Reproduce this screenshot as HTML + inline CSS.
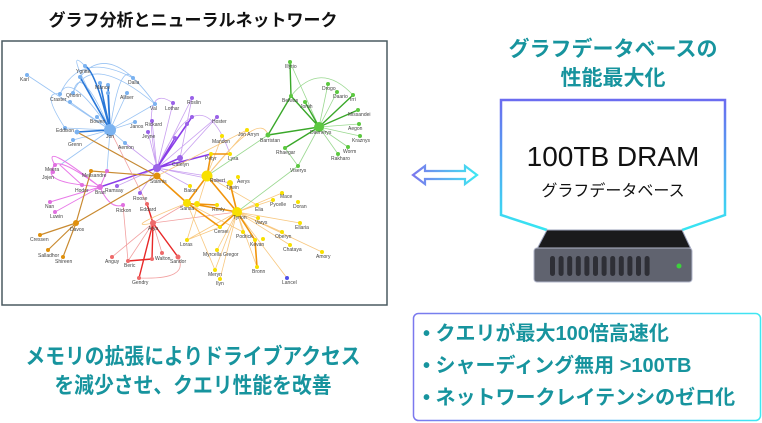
<!DOCTYPE html>
<html><head><meta charset="utf-8"><style>
body{margin:0;width:762px;height:423px;background:#fff;overflow:hidden;position:relative;font-family:"Liberation Sans","Noto Sans CJK JP",sans-serif}
.t{position:absolute;white-space:nowrap}
</style></head><body>
<div class="t" style="left:0;width:386px;top:6px;text-align:center;font-size:17px;font-weight:bold;color:#111">グラフ分析とニューラルネットワーク</div>
<div class="t" style="left:500px;width:226px;top:35px;text-align:center;font-size:21px;font-weight:bold;color:#17949e;line-height:29px">グラフデータベースの<br>性能最大化</div>

<svg style="position:absolute;left:0;top:0" width="762" height="423">
<defs>
<linearGradient id="g1" x1="0" y1="0" x2="0" y2="1"><stop offset="0" stop-color="#6b6cf0"/><stop offset="1" stop-color="#36e6f2"/></linearGradient>
<linearGradient id="g3" x1="0" y1="0" x2="1" y2="0"><stop offset="0" stop-color="#7b78ee"/><stop offset="1" stop-color="#3ee8f2"/></linearGradient>
</defs>
<rect x="2" y="41" width="385" height="264" fill="#fff" stroke="#4a5a60" stroke-width="1.5"/>
<g fill="none" stroke-linecap="round">
<g stroke="#7fb4f0" stroke-width="0.8" opacity="0.8">
<path d="M110 130 L27 75 M110 130 Q70 70 60 94 M110 130 Q80 60 73 93 M110 130 L70 102 M110 130 Q60 40 85 66 M110 130 Q120 60 133 78 M110 130 L127 93 M110 130 L155 104 M110 130 L97 117 M110 130 L135 122 M110 130 L65 128 M110 130 L73 140 M110 130 L125 143 M60 94 Q80 50 133 78 M73 93 Q90 50 155 104 M80 77 Q110 40 155 104 M65 128 Q40 90 60 94 M110 130 L107 171 M110 130 L60 165 M77 132 L157 176"/>
</g>
<g stroke="#2a78d8" stroke-width="1.6">
<path d="M110 130 L80 77 M110 130 L100 83 M110 130 L108 85 M110 130 L108 93 M110 130 L77 132 M110 130 Q95 70 85 66"/>
</g>
<g stroke="#c9a0f0" stroke-width="0.8">
<path d="M157 168 L173 103 M157 168 L192 98 M157 168 L217 117 M157 168 L152 121 M157 168 L148 132 M157 168 Q200 70 230 154 M157 168 L117 186 M157 168 L140 193 M157 168 L125 143 M157 168 L207 176 M180 158 L217 117 M180 158 L192 98 M157 168 Q140 80 173 103 M157 168 L230 183 M157 168 L190 186"/>
</g>
<g stroke="#8a3ee8" stroke-width="1.5">
<path d="M157 168 L192 117 M157 168 L187 124 M157 168 L175 138 M157 168 L180 158 M157 168 L100 187 M157 168 L211 154"/>
</g>
<g stroke="#e87ae8" stroke-width="1">
<path d="M100 187 Q40 140 55 165 M100 187 Q50 150 53 172 M100 187 L82 185 M100 187 L107 171 M100 187 Q110 210 123 205 M100 187 L50 202 M100 187 L55 212 M55 165 Q40 180 82 185 M82 185 L60 165"/>
</g>
<g stroke="#c98a30" stroke-width="1.2">
<path d="M157 176 L76 223 M76 223 L48 250 M76 223 L40 235 M76 223 L63 257 M157 176 L91 171 M91 171 L76 223 M157 176 L77 132"/>
</g>
<g stroke="#f2a0a0" stroke-width="0.8">
<path d="M153 223 L112 257 M153 223 L147 204 M153 223 L162 253 M153 223 L187 203 M147 204 L110 130 M153 223 L128 261 M139 278 Q190 280 178 257 M128 261 L123 205 M153 223 L237 212"/>
</g>
<g stroke="#e82828" stroke-width="1.4">
<path d="M153 223 L178 257 M153 223 L139 278 M153 223 L152 259 M128 261 L152 259 M147 204 L153 223"/>
</g>
<g stroke="#f8c880" stroke-width="0.8">
<path d="M237 212 L258 218 M237 212 L273 200 M237 212 L282 193 M237 212 L257 205 M237 212 L282 232 M237 212 L300 223 M237 212 L290 245 M237 212 L322 252 M237 212 L243 232 M237 212 L257 267 M237 212 L215 270 M237 212 L220 279 M237 212 L187 240 M237 212 L217 250 M207 176 L247 130 M207 176 L222 136 M187 203 L220 227 M187 203 L215 270 M207 176 L187 240 M187 203 L243 232 M207 176 Q260 110 268 135 M237 212 L287 278 M187 203 Q120 230 153 223 M207 176 L257 205 M220 227 L187 240 M157 176 L247 130"/>
</g>
<g stroke="#f0940c" stroke-width="1.6">
<path d="M187 203 L237 212 M207 176 L237 212 M207 176 L187 203 M211 154 L230 154 M230 183 L237 212 M197 204 L217 205 M220 227 L237 212 M187 203 L220 227 M237 212 L255 240 M255 240 L257 267 M157 176 L187 203 M207 176 L211 154"/>
</g>
<g stroke="#9ad890" stroke-width="0.8">
<path d="M319 127 L290 62 M319 127 L328 84 M319 127 L337 92 M319 127 L359 124 M319 127 L360 136 M319 127 L348 147 M319 127 L338 154 M319 127 L298 166 M207 176 L268 135 M237 212 L298 166 M291 96 Q320 60 353 95 M285 148 L298 166"/>
</g>
<g stroke="#3aa82a" stroke-width="1.4">
<path d="M319 127 L291 96 M319 127 L305 102 M319 127 L353 95 M319 127 L358 110 M319 127 L268 135 M268 135 L291 96 M319 127 L285 148 M290 62 L291 96"/>
</g>
</g>
<g>
<g fill="#7ab2f0"><circle cx="110" cy="130" r="6"/><circle cx="27" cy="75" r="2"/><circle cx="60" cy="94" r="2"/><circle cx="73" cy="93" r="2"/><circle cx="70" cy="102" r="2"/><circle cx="80" cy="77" r="2"/><circle cx="85" cy="66" r="2"/><circle cx="100" cy="83" r="2"/><circle cx="108" cy="85" r="2"/><circle cx="108" cy="93" r="2"/><circle cx="133" cy="78" r="2"/><circle cx="127" cy="93" r="2"/><circle cx="155" cy="104" r="2"/><circle cx="97" cy="117" r="2"/><circle cx="135" cy="122" r="2"/><circle cx="65" cy="128" r="2"/><circle cx="77" cy="132" r="2.5"/><circle cx="73" cy="140" r="2"/><circle cx="125" cy="143" r="2"/></g>
<g fill="#9a62e8"><circle cx="157" cy="168" r="4"/><circle cx="180" cy="158" r="3"/><circle cx="173" cy="103" r="2"/><circle cx="192" cy="98" r="2"/><circle cx="192" cy="117" r="2"/><circle cx="187" cy="124" r="2"/><circle cx="217" cy="117" r="2"/><circle cx="152" cy="121" r="2"/><circle cx="148" cy="132" r="2"/><circle cx="175" cy="138" r="2"/><circle cx="117" cy="186" r="2"/><circle cx="140" cy="193" r="2"/></g>
<g fill="#e070e0"><circle cx="55" cy="165" r="2"/><circle cx="53" cy="172" r="2"/><circle cx="82" cy="185" r="2"/><circle cx="100" cy="187" r="3"/><circle cx="107" cy="171" r="2"/><circle cx="123" cy="205" r="2"/><circle cx="50" cy="202" r="2"/><circle cx="55" cy="212" r="2"/></g>
<g fill="#e0900c"><circle cx="157" cy="176" r="3.5"/><circle cx="76" cy="223" r="3"/><circle cx="40" cy="235" r="2"/><circle cx="48" cy="250" r="2"/><circle cx="63" cy="257" r="2"/><circle cx="91" cy="171" r="2"/></g>
<g fill="#ee6a6a"><circle cx="153" cy="223" r="3"/><circle cx="147" cy="204" r="2"/><circle cx="139" cy="278" r="2"/><circle cx="128" cy="261" r="2"/><circle cx="152" cy="259" r="2"/><circle cx="112" cy="257" r="2"/><circle cx="178" cy="257" r="2.5"/><circle cx="162" cy="253" r="2"/></g>
<g fill="#f8e000"><circle cx="207" cy="176" r="5.5"/><circle cx="187" cy="203" r="4"/><circle cx="197" cy="204" r="3"/><circle cx="237" cy="212" r="5"/><circle cx="211" cy="154" r="2"/><circle cx="230" cy="154" r="2"/><circle cx="247" cy="130" r="2"/><circle cx="217" cy="205" r="2"/><circle cx="220" cy="227" r="2"/><circle cx="230" cy="183" r="3"/><circle cx="238" cy="177" r="2"/><circle cx="190" cy="186" r="2"/><circle cx="258" cy="218" r="2"/><circle cx="273" cy="200" r="2"/><circle cx="282" cy="193" r="2"/><circle cx="298" cy="202" r="2"/><circle cx="257" cy="205" r="2"/><circle cx="282" cy="232" r="2"/><circle cx="300" cy="223" r="2"/><circle cx="290" cy="245" r="2"/><circle cx="322" cy="252" r="2"/><circle cx="243" cy="232" r="2"/><circle cx="255" cy="240" r="2"/><circle cx="263" cy="239" r="2"/><circle cx="257" cy="267" r="2"/><circle cx="215" cy="270" r="2"/><circle cx="220" cy="279" r="2"/><circle cx="187" cy="240" r="2"/><circle cx="217" cy="250" r="2"/><circle cx="222" cy="136" r="2"/></g>
<circle cx="287" cy="278" r="2" fill="#5050e8"/>
<g fill="#5cc840"><circle cx="319" cy="127" r="5"/><circle cx="290" cy="62" r="2"/><circle cx="291" cy="96" r="2"/><circle cx="305" cy="102" r="2"/><circle cx="328" cy="84" r="2"/><circle cx="337" cy="92" r="2"/><circle cx="353" cy="95" r="2"/><circle cx="358" cy="110" r="2"/><circle cx="359" cy="124" r="2"/><circle cx="360" cy="136" r="2"/><circle cx="348" cy="147" r="2"/><circle cx="338" cy="154" r="2"/><circle cx="268" cy="135" r="2.5"/><circle cx="285" cy="148" r="2"/><circle cx="298" cy="166" r="2"/></g>
</g>
<g font-family="Liberation Sans" font-size="5" fill="#444">
<text x="20" y="81">Karl</text><text x="50" y="101">Craster</text><text x="66" y="97">Qhorin</text><text x="76" y="73">Ygritte</text><text x="95" y="89">Mance</text><text x="128" y="84">Dalla</text><text x="120" y="99">Alliser</text><text x="150" y="110">Val</text><text x="90" y="123">Bowen</text><text x="130" y="128">Janos</text><text x="56" y="132">Eddison</text><text x="68" y="146">Grenn</text><text x="106" y="138">Jon</text><text x="118" y="149">Aemon</text>
<text x="165" y="110">Lothar</text><text x="187" y="104">Roslin</text><text x="212" y="123">Hoster</text><text x="145" y="126">Rickard</text><text x="142" y="138">Jeyne</text><text x="172" y="166">Catelyn</text><text x="105" y="192">Ramsay</text><text x="133" y="200">Roose</text>
<text x="45" y="171">Meera</text><text x="42" y="179">Jojen</text><text x="75" y="192">Hodor</text><text x="95" y="194">Bran</text><text x="82" y="177">Melisandre</text><text x="116" y="212">Rickon</text><text x="45" y="208">Nan</text><text x="50" y="218">Luwin</text>
<text x="70" y="231">Davos</text><text x="30" y="241">Cressen</text><text x="38" y="257">Salladhor</text><text x="55" y="263">Shireen</text><text x="150" y="183">Stannis</text>
<text x="140" y="211">Eddard</text><text x="148" y="230">Arya</text><text x="105" y="263">Anguy</text><text x="124" y="267">Beric</text><text x="132" y="284">Gendry</text><text x="170" y="263">Sandor</text><text x="155" y="260">Walton</text>
<text x="210" y="182">Robert</text><text x="180" y="210">Sansa</text><text x="233" y="219">Tyrion</text><text x="205" y="160">Petyr</text><text x="228" y="160">Lysa</text><text x="238" y="136">Jon Arryn</text><text x="212" y="143">Mandon</text><text x="214" y="233">Cersei</text><text x="226" y="189">Tywin</text><text x="237" y="183">Aerys</text><text x="184" y="192">Balon</text><text x="255" y="224">Varys</text><text x="270" y="206">Pycelle</text><text x="280" y="198">Mace</text><text x="293" y="208">Doran</text><text x="255" y="211">Elia</text><text x="275" y="238">Oberyn</text><text x="295" y="229">Ellaria</text><text x="283" y="251">Chataya</text><text x="316" y="258">Amory</text><text x="236" y="238">Podrick</text><text x="250" y="246">Kevan</text><text x="252" y="273">Bronn</text><text x="282" y="284">Lancel</text><text x="208" y="276">Meryn</text><text x="216" y="285">Ilyn</text><text x="180" y="246">Loras</text><text x="203" y="256">Myrcella Gregor</text><text x="212" y="211">Renly</text>
<text x="285" y="68">Illyrio</text><text x="282" y="102">Belwas</text><text x="300" y="108">Jorah</text><text x="322" y="90">Drogo</text><text x="333" y="98">Daario</text><text x="350" y="101">Irri</text><text x="348" y="116">Missandei</text><text x="348" y="130">Aegon</text><text x="352" y="142">Kraznys</text><text x="343" y="153">Worm</text><text x="331" y="160">Rakharo</text><text x="310" y="134">Daenerys</text><text x="260" y="142">Barristan</text><text x="276" y="154">Rhaegar</text><text x="290" y="172">Viserys</text>
</g>

<path d="M413 175 L425 166 L425 171 L465 171 L465 166 L477 175 L465 184 L465 179 L425 179 L425 184 Z" fill="#fff" stroke="url(#g3)" stroke-width="2.2"/>

<path d="M547 230 L501 215 L501 100 L725 100 L725 215 L682 230" fill="none" stroke="url(#g1)" stroke-width="2.5"/>
<path d="M547 230 L682 230 L691 249 L537 249 Z" fill="#1a1a1c" stroke="#9aa0b8" stroke-width="1"/>
<rect x="534" y="248" width="158" height="34" rx="3" fill="#60636f" stroke="#b0b4c8" stroke-width="1"/>
<g fill="#2e2f36">
<rect x="550" y="256" width="5" height="20" rx="2.5"/><rect x="558.6" y="256" width="5" height="20" rx="2.5"/><rect x="567.2" y="256" width="5" height="20" rx="2.5"/><rect x="575.8" y="256" width="5" height="20" rx="2.5"/><rect x="584.4" y="256" width="5" height="20" rx="2.5"/><rect x="593" y="256" width="5" height="20" rx="2.5"/><rect x="601.6" y="256" width="5" height="20" rx="2.5"/><rect x="610.2" y="256" width="5" height="20" rx="2.5"/><rect x="618.8" y="256" width="5" height="20" rx="2.5"/><rect x="627.4" y="256" width="5" height="20" rx="2.5"/><rect x="636" y="256" width="5" height="20" rx="2.5"/><rect x="644.6" y="256" width="5" height="20" rx="2.5"/>
</g>
<circle cx="679" cy="266" r="2.5" fill="#3cd23c"/>

<rect x="413.5" y="313.5" width="347" height="107" rx="5" fill="#fff" stroke="url(#g3)" stroke-width="1.5"/>
</svg>

<div class="t" style="left:501px;width:224px;top:141px;text-align:center;font-size:28px;color:#111">100TB DRAM</div>
<div class="t" style="left:501px;width:224px;top:177px;text-align:center;font-size:16px;color:#111">グラフデータベース</div>

<div class="t" style="left:0;width:386px;top:342px;text-align:center;font-size:22px;font-weight:bold;color:#17949e;line-height:29px;transform:scaleX(0.9);transform-origin:193px 0">メモリの拡張によりドライブアクセス<br>を減少させ、クエリ性能を改善</div>

<div class="t" style="left:423px;top:318px;font-size:20px;font-weight:bold;color:#17949e;line-height:32px">• クエリが最大100倍高速化<br>• シャーディング無用 &gt;100TB<br>• ネットワークレイテンシのゼロ化</div>
</body></html>
